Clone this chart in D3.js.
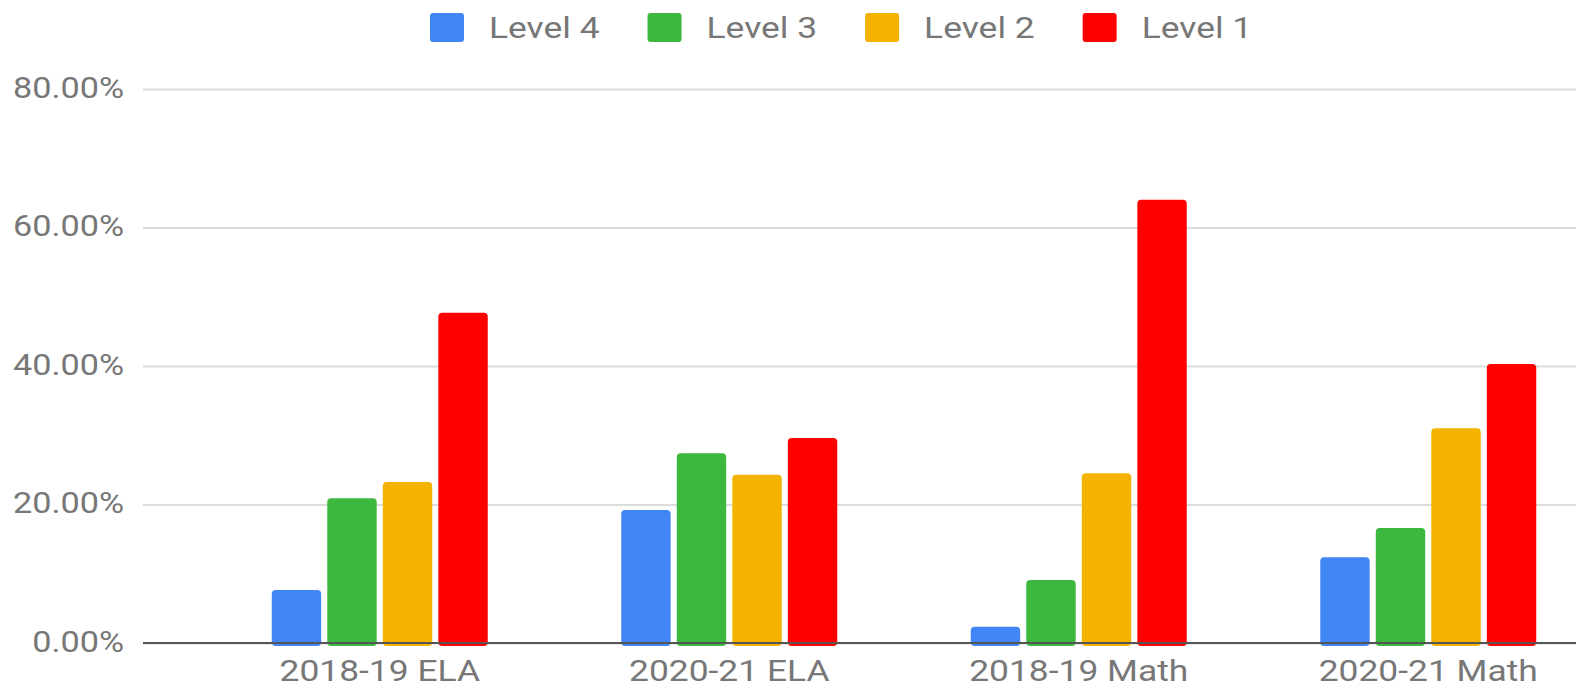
<!DOCTYPE html>
<html>
<head>
<meta charset="utf-8">
<script src="https://cdn.jsdelivr.net/npm/d3@7"></script>
<style>
  body { margin: 0; background: #fff; }
  text { font-family: Roboto, "Noto Sans", sans-serif; fill: #777; }
</style>
</head>
<body>
<script>
// Chart data
const categories = ["2018-19 ELA", "2020-21 ELA", "2018-19 Math", "2020-21 Math"];
const seriesNames = ["Level 4", "Level 3", "Level 2", "Level 1"];
const level4 = [0.0765, 0.192, 0.0235, 0.124];
const level3 = [0.209, 0.274, 0.091, 0.166];
const level2 = [0.2325, 0.243, 0.245, 0.310];
const level1 = [0.477, 0.296, 0.640, 0.403];
const yTicks = [0, 0.2, 0.4, 0.6, 0.8];
const colors = ["#4285f4", "#3bb83d", "#f3b300", "#ff0000"];

const seriesValues = [level4, level3, level2, level1];

const W = 1576, H = 687;
const left = 143, baseY = 643, topY = 89;
const stretch = 1.18; // glyphs in the picture are a little wider than Roboto

const svg = d3.select("body")
  .append("svg")
  .attr("width", W)
  .attr("height", H);

// Scales
const x0 = d3.scaleBand()
  .domain(categories)
  .range([205, 1603])
  .paddingInner(0.382)
  .paddingOuter(0.191);

const x1 = d3.scaleBand()
  .domain(seriesNames)
  .range([0, x0.bandwidth()])
  .paddingInner(0.11);

const y = d3.scaleLinear()
  .domain([0, 0.8])
  .range([baseY, topY]);

const color = d3.scaleOrdinal().domain(seriesNames).range(colors);

// Gridlines
svg.append("g")
  .attr("class", "grid")
  .attr("transform", "translate(" + left + ",0)")
  .call(d3.axisLeft(y).tickValues(yTicks).tickSize(-(W - left)).tickFormat(""))
  .call(g => g.select(".domain").remove())
  .call(g => g.selectAll("line").attr("stroke", "#dcdcdc").attr("stroke-width", 2));

// Y axis labels
svg.append("g")
  .attr("class", "y axis")
  .attr("transform", "translate(" + left + ",0)")
  .call(d3.axisLeft(y).tickValues(yTicks).tickSize(0).tickPadding(0).tickFormat(d3.format(".2%")))
  .call(g => g.select(".domain").remove())
  .call(g => g.selectAll("text")
    .attr("x", 0)
    .attr("font-size", 29)
    .attr("fill", "#777")
    .attr("transform", "translate(-19,-1) scale(" + stretch + ",1)"));

// Bars
const rows = categories.map((c, i) => ({
  category: c,
  values: seriesNames.map((s, j) => ({ key: s, value: seriesValues[j][i] }))
}));

const groups = svg.selectAll(".group")
  .data(rows)
  .enter()
  .append("g")
  .attr("class", "group")
  .attr("transform", d => "translate(" + x0(d.category) + ",0)");

groups.selectAll("rect")
  .data(d => d.values)
  .enter()
  .append("rect")
  .attr("x", d => x1(d.key))
  .attr("y", d => y(d.value))
  .attr("width", x1.bandwidth())
  .attr("height", d => y(0) - y(d.value) + 3)
  .attr("rx", 4)
  .attr("fill", d => color(d.key));

// Baseline covers the bottom of the bars
svg.append("line")
  .attr("x1", left)
  .attr("x2", W)
  .attr("y1", y(0))
  .attr("y2", y(0))
  .attr("stroke", "#555")
  .attr("stroke-width", 2);

// X axis labels
svg.append("g")
  .attr("class", "x axis")
  .attr("transform", "translate(0," + baseY + ")")
  .call(d3.axisBottom(x0).tickSize(0).tickPadding(0))
  .call(g => g.select(".domain").remove())
  .call(g => g.selectAll("text")
    .attr("y", 0)
    .attr("dy", null)
    .attr("font-size", 30)
    .attr("fill", "#777")
    .attr("transform", "translate(0,38) scale(" + stretch + ",1)"));

// Legend
const legend = svg.append("g").attr("class", "legend");
let lx = 430;
seriesNames.forEach((name, i) => {
  const item = legend.append("g").attr("transform", "translate(" + lx + ",0)");
  item.append("rect")
    .attr("x", 0)
    .attr("y", 13)
    .attr("width", 34)
    .attr("height", 29)
    .attr("rx", 3)
    .attr("fill", color(name));
  const t = item.append("text")
    .attr("font-size", 30)
    .attr("fill", "#777")
    .attr("transform", "translate(59,38) scale(" + stretch + ",1)")
    .text(name);
  lx += 59 + t.node().getComputedTextLength() * stretch + 48;
});
</script>
</body>
</html>
